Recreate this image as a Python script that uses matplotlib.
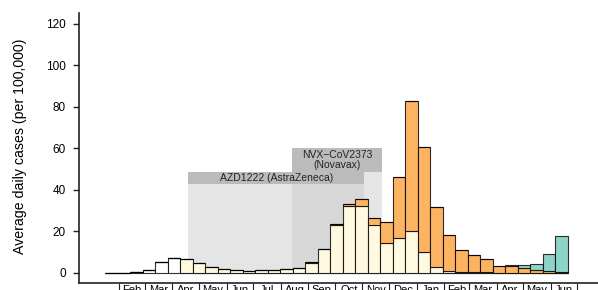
import numpy as np
import matplotlib
matplotlib.use("Agg")
import matplotlib.pyplot as plt

plt.rcParams['font.family'] = ['Liberation Sans', 'DejaVu Sans']

# ---------------- data ----------------
bin_start = np.datetime64('2020-01-16')
bin_days = 14.08
pre_variant = [0.05, 0.05, 0.3, 1.4, 5.3, 7.1] + [0] * 31
wild_type = [0, 0, 0, 0, 0, 0,
             6.8, 4.7, 2.7, 1.9, 1.4, 0.8, 1.1, 1.3, 1.8, 2.2,
             4.7, 11.3, 22.9, 32.2, 32.2, 22.8, 14.5, 16.7, 20.3, 10.0,
             2.6, 0.8, 0.3, 0.15, 0.1, 0.05, 0.05, 0.05, 0.05, 0.05, 0.05]
alpha_var = [0] * 14 + [0.1, 0.2, 0.4, 0.3, 0.3, 1.0,
                        3.2, 3.5, 10.1, 29.5, 62.4, 50.6, 28.9, 17.2, 10.8, 8.25,
                        6.6, 3.1, 3.2, 2.3, 1.0, 0.6, 0.3]
delta_var = [0] * 31 + [0.05, 0.3, 1.2, 2.9, 8.1, 17.4]

trial_names = ['AZD1222 (AstraZeneca)', 'NVX\u2212CoV2373\n(Novavax)']
trial_start = ['2020-04-19', '2020-08-14']
trial_end = ['2020-11-03', '2020-11-23']
trial_top = [48.5, 60.0]
trial_lines = [1, 2]

month_labels = ['Feb', 'Mar', 'Apr', 'May', 'Jun', 'Jul', 'Aug', 'Sep', 'Oct',
                'Nov', 'Dec', 'Jan', 'Feb', 'Mar', 'Apr', 'May', 'Jun']
y_ticks = [0, 20, 40, 60, 80, 100, 120]

# ---------------- plot ----------------
origin = np.datetime64('2020-01-01')
def day(d):
    return (np.datetime64(d, 'D') - origin).astype(float)

fig = plt.figure(figsize=(5.98, 2.90), dpi=100)
ax = fig.add_axes([78.5 / 598, 7 / 290, 1 - 78.5 / 598, (283 - 13.3) / 290])

n = len(wild_type)
left = (bin_start - origin).astype(float) + np.arange(n) * bin_days

# trial windows
header_h = 5.75
for name, s, e, top, nl in zip(trial_names, trial_start, trial_end, trial_top, trial_lines):
    x0, x1 = day(s), day(e)
    hh = header_h * nl
    ax.bar(x0, top - hh, width=x1 - x0, align='edge', color='#cccccc',
           alpha=0.5, linewidth=0, zorder=0)
for name, s, e, top, nl in zip(trial_names, trial_start, trial_end, trial_top, trial_lines):
    x0, x1 = day(s), day(e)
    hh = header_h * nl
    ax.bar(x0, hh, bottom=top - hh, width=x1 - x0, align='edge',
           color='#bbbbbb', linewidth=0, zorder=1)
    ax.text((x0 + x1) / 2, top - hh / 2, name, ha='center', va='center',
            fontsize=7.5, color='#222222', linespacing=0.95, zorder=2)

edge = (0, 0, 0, 0.8)
bottom = np.zeros(n)
for vals, col in [(pre_variant, 'white'), (wild_type, '#fff9e0'),
                  (alpha_var, '#fdb462'), (delta_var, '#8dd3c7')]:
    v = np.array(vals, dtype=float)
    ax.bar(left, v, bottom=bottom, width=bin_days, align='edge', color=col,
           edgecolor=edge, linewidth=0.8, zorder=3)
    bottom = bottom + v

ax.set_ylim(-5, 125)
ax.set_xlim(-14.85, 570.3)
ax.set_yticks(y_ticks)
ax.tick_params(axis='y', length=4.5, width=1, labelsize=8.5, pad=4.5, color='#222222')

month_edges = (np.datetime64('2020-02') + np.arange(len(month_labels) + 1)).astype('datetime64[D]')
me = (month_edges - origin).astype(float)
ax.set_xticks(me)
ax.set_xticklabels([])
ax.tick_params(axis='x', which='major', length=12, width=0.8, color='#222222')
ax.set_xticks((me[:-1] + me[1:]) / 2, minor=True)
ax.set_xticklabels(month_labels, minor=True)
ax.tick_params(axis='x', which='minor', length=0, labelsize=8, pad=1.5)

for sp in ['top', 'right']:
    ax.spines[sp].set_visible(False)
for sp in ['left', 'bottom']:
    ax.spines[sp].set_linewidth(1.2)
    ax.spines[sp].set_color('#222222')

ax.set_ylabel('Average daily cases (per 100,000)', fontsize=10.2)
ax.yaxis.set_label_coords(-0.10, 0.505)

fig.savefig('out.png', dpi=100)
